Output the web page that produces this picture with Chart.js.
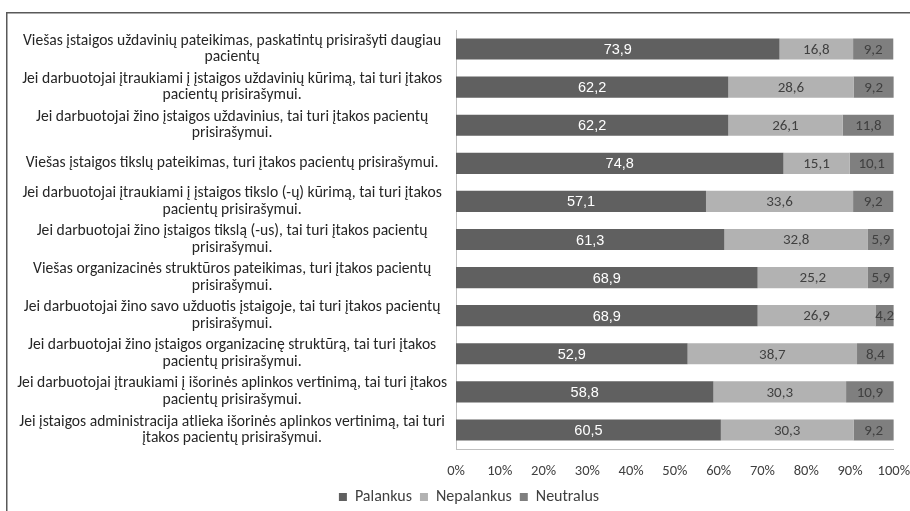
<!DOCTYPE html>
<html>
<head>
<meta charset="utf-8">
<script src="https://cdn.jsdelivr.net/npm/chart.js@4.4.1/dist/chart.umd.min.js"></script>
<style>
  html, body { margin: 0; padding: 0; background: #fff; }
  #wrap { position: relative; width: 910px; height: 511px; }
</style>
</head>
<body>
<div id="wrap"><canvas id="c" width="910" height="511"></canvas></div>
<script>
const categories = [
  ["Viešas įstaigos uždavinių pateikimas, paskatintų prisirašyti daugiau", "pacientų"],
  ["Jei darbuotojai įtraukiami į įstaigos uždavinių kūrimą, tai turi įtakos", "pacientų prisirašymui."],
  ["Jei darbuotojai žino įstaigos uždavinius, tai turi įtakos pacientų", "prisirašymui."],
  ["Viešas įstaigos tikslų pateikimas, turi įtakos pacientų prisirašymui."],
  ["Jei darbuotojai įtraukiami į įstaigos tikslo (-ų) kūrimą, tai turi įtakos", "pacientų prisirašymui."],
  ["Jei darbuotojai žino įstaigos tikslą (-us), tai turi įtakos pacientų", "prisirašymui."],
  ["Viešas organizacinės struktūros pateikimas, turi įtakos pacientų", "prisirašymui."],
  ["Jei darbuotojai žino savo užduotis įstaigoje, tai turi įtakos pacientų", "prisirašymui."],
  ["Jei darbuotojai žino įstaigos organizacinę struktūrą, tai turi įtakos", "pacientų prisirašymui."],
  ["Jei darbuotojai įtraukiami į išorinės aplinkos vertinimą, tai turi įtakos", "pacientų prisirašymui."],
  ["Jei įstaigos administracija atlieka išorinės aplinkos vertinimą, tai turi", "įtakos pacientų prisirašymui."]
];
const palankus   = [73.9, 62.2, 62.2, 74.8, 57.1, 61.3, 68.9, 68.9, 52.9, 58.8, 60.5];
const nepalankus = [16.8, 28.6, 26.1, 15.1, 33.6, 32.8, 25.2, 26.9, 38.7, 30.3, 30.3];
const neutralus  = [9.2, 9.2, 11.8, 10.1, 9.2, 5.9, 5.9, 4.2, 8.4, 10.9, 9.2];
const seriesNames = ["Palankus", "Nepalankus", "Neutralus"];
const xTicks = [0, 10, 20, 30, 40, 50, 60, 70, 80, 90, 100];

const LABEL_FONT = "Carlito, Lato, 'Open Sans', sans-serif";
const LEGEND_PAD = 8;
const LEGEND_SIZE = 16;

const frame = {
  id: 'frame',
  beforeDraw(chart) {
    const ctx = chart.ctx;
    ctx.save();
    ctx.strokeStyle = '#595959';
    ctx.lineWidth = 1.5;
    ctx.strokeRect(6.75, 12.75, 2000, 2000);
    ctx.restore();
  }
};

const valueLabels = {
  id: 'valueLabels',
  afterDatasetsDraw(chart) {
    const ctx = chart.ctx;
    ctx.save();
    ctx.textAlign = 'center';
    ctx.textBaseline = 'middle';
    chart.data.datasets.forEach((ds, di) => {
      const meta = chart.getDatasetMeta(di);
      meta.data.forEach((bar, i) => {
        const v = ds.data[i];
        const cx = (bar.x + bar.base) / 2;
        if (di === 0) {
          ctx.fillStyle = '#ffffff';
          ctx.font = "14.5px 'Liberation Sans', Arial, sans-serif";
        } else {
          ctx.fillStyle = '#404040';
          ctx.font = "15px " + LABEL_FONT;
        }
        ctx.fillText(v.toFixed(1).replace('.', ','), cx, bar.y + 1);
      });
    });
    ctx.restore();
  }
};

const shiftLegend = {
  id: 'shiftLegend',
  afterLayout(chart) {
    const lg = chart.legend;
    if (!lg) return;
    const dx = 9;
    const dy = 497 - (lg.top + LEGEND_PAD + LEGEND_SIZE / 2);
    lg.left += dx; lg.right += dx;
    lg.top += dy; lg.bottom += dy;
  }
};

new Chart(document.getElementById('c'), {
  type: 'bar',
  data: {
    labels: categories,
    datasets: [
      { label: seriesNames[0], data: palankus, backgroundColor: '#606060' },
      { label: seriesNames[1], data: nepalankus, backgroundColor: '#b2b2b2' },
      { label: seriesNames[2], data: neutralus, backgroundColor: '#7f7f7f' }
    ]
  },
  options: {
    indexAxis: 'y',
    responsive: false,
    animation: false,
    devicePixelRatio: 1,
    categoryPercentage: 1,
    barPercentage: 0.555,
    layout: { padding: { left: 10, top: 30, right: 0, bottom: 0 } },
    scales: {
      x: {
        stacked: true,
        min: 0, max: 100,
        afterBuildTicks(scale) { scale.ticks = xTicks.map(v => ({ value: v })); },
        afterFit(scale) { scale.height = 28; },
        grid: { display: false, drawTicks: true, tickLength: 14 },
        border: { display: true, color: '#bfbfbf', width: 1 },
        ticks: {
          padding: 0,
          color: '#404040',
          font: { family: LABEL_FONT, size: 14.5 },
          callback: v => v + '%',
          maxRotation: 0, autoSkip: false
        }
      },
      y: {
        stacked: true,
        afterFit(scale) { scale.width = 446; },
        grid: { display: false, drawTicks: false },
        border: { display: true, color: '#bfbfbf', width: 1 },
        ticks: {
          crossAlign: 'center',
          padding: 9,
          color: '#262626',
          autoSkip: false,
          font: { family: LABEL_FONT, size: 15.6, lineHeight: 1.07 }
        }
      }
    },
    plugins: {
      legend: {
        position: 'bottom',
        labels: {
          boxWidth: 8, boxHeight: 8,
          padding: LEGEND_PAD,
          color: '#404040',
          font: { family: LABEL_FONT, size: LEGEND_SIZE }
        }
      },
      tooltip: { enabled: false }
    }
  },
  plugins: [frame, valueLabels, shiftLegend]
});
</script>
</body>
</html>
